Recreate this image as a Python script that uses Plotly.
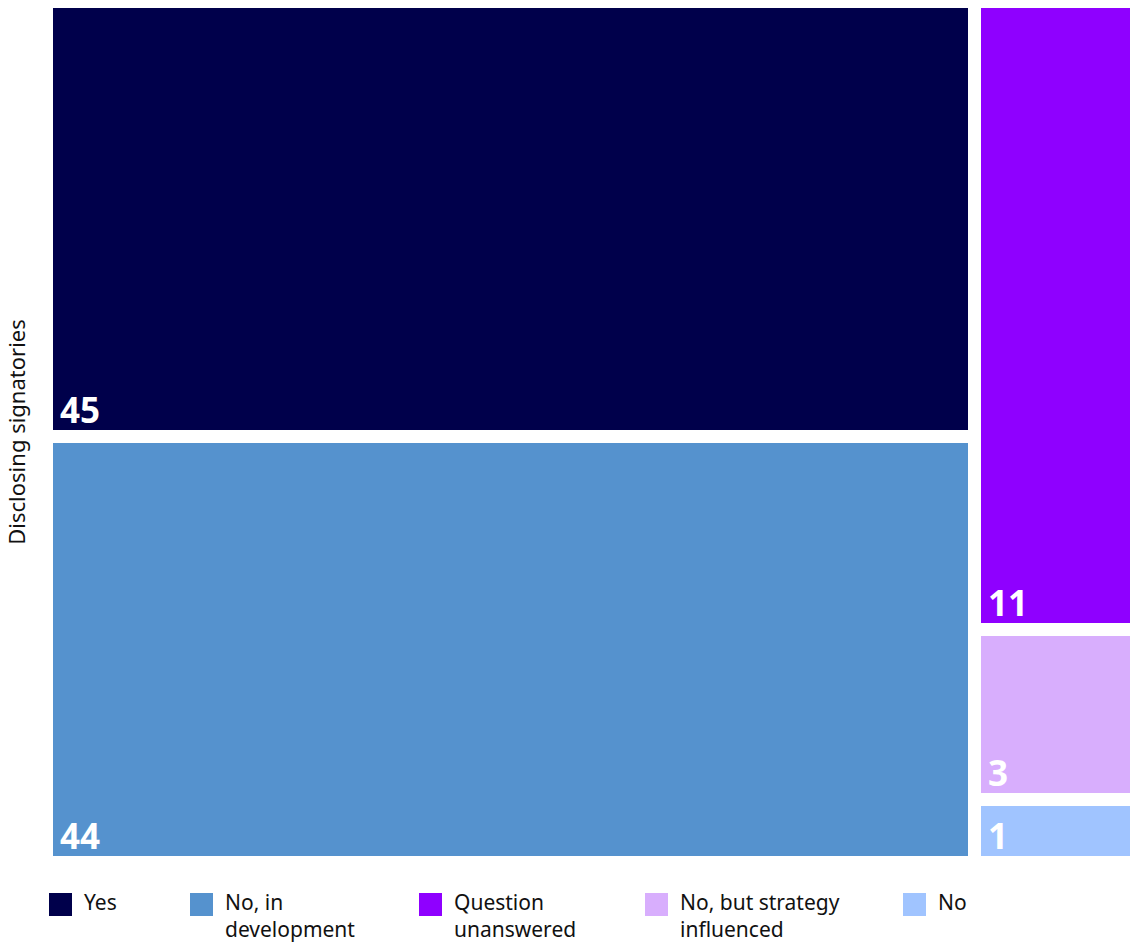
import plotly.graph_objects as go

# Disclosing signatories by answer
categories = ["Yes", "No, in development", "Question unanswered", "No, but strategy influenced", "No"]
values = [45, 44, 11, 3, 1]
columns = [0, 0, 1, 1, 1]          # which treemap column each tile sits in
legend_labels = ["Yes", "No, in<br>development", "Question<br>unanswered", "No, but strategy<br>influenced", "No"]
colors = ["#00004B", "#5592CE", "#8F00FF", "#D8AEFD", "#A0C4FF"]

FONT = "Noto Sans"
W, H = 1131, 946
L, R, T, B = 53, 1, 8, 90
PW, PH = W - L - R, H - T - B
GAP = 13  # white gap between tiles, px

total = sum(values)
col_tot = {}
for c, v in zip(columns, values):
    col_tot[c] = col_tot.get(c, 0) + v

# slice-and-dice layout: columns split x by column total, tiles stacked top-down
gx = GAP / 2 * total / PW
gy = GAP / 2 / PH
rects = []
x_start = 0.0
ncols = len(col_tot)
for c in sorted(col_tot):
    x0, x1 = x_start, x_start + col_tot[c]
    x_start = x1
    idx = [i for i, cc in enumerate(columns) if cc == c]
    y_top = 1.0
    for k, i in enumerate(idx):
        y1, y0 = y_top, y_top - values[i] / col_tot[c]
        y_top = y0
        rx0 = x0 + (gx if c > 0 else 0)
        rx1 = x1 - (gx if c < ncols - 1 else 0)
        ry1 = y1 - (gy if k > 0 else 0)
        ry0 = y0 + (gy if k < len(idx) - 1 else 0)
        rects.append((i, rx0, rx1, ry0, ry1))

fig = go.Figure()
annotations = []
for i, rx0, rx1, ry0, ry1 in rects:
    fig.add_trace(go.Bar(
        x=[(rx0 + rx1) / 2], y=[ry1 - ry0], base=[ry0], width=[rx1 - rx0],
        marker=dict(color=colors[i], line=dict(width=0)),
        name=categories[i], showlegend=False,
        hovertemplate=f"{categories[i]}: {values[i]}<extra></extra>",
    ))
    annotations.append(dict(
        x=rx0, y=ry0, xref="x", yref="y", xanchor="left", yanchor="bottom",
        text=f"<b>{values[i]}</b>", showarrow=False, xshift=5, yshift=-5,
        font=dict(family=FONT, size=35, color="white"),
    ))

# legend row under the tiles
legend_px = [49, 190, 419, 645, 903]
SQ = 23
def px_x(p):
    return (p - L) / PW
def px_y(p):
    return (H - B - p) / PH

shapes = []
for lx, lab, col in zip(legend_px, legend_labels, colors):
    shapes.append(dict(type="rect", xref="paper", yref="paper",
                       x0=px_x(lx), x1=px_x(lx + SQ), y0=px_y(893 + SQ), y1=px_y(893),
                       fillcolor=col, line=dict(width=0)))
    annotations.append(dict(
        x=px_x(lx + 33), y=px_y(886), xref="paper", yref="paper",
        xanchor="left", yanchor="top", align="left", showarrow=False,
        text=lab, font=dict(family=FONT, size=21, color="#111111"),
    ))

fig.update_layout(
    width=W, height=H,
    margin=dict(l=L, r=R, t=T, b=B),
    paper_bgcolor="white", plot_bgcolor="white",
    barmode="overlay", bargap=0,
    xaxis=dict(range=[0, total], visible=False, fixedrange=True),
    yaxis=dict(range=[0, 1], showticklabels=False, showgrid=False, zeroline=False,
               ticks="", fixedrange=True,
               title=dict(text="Disclosing signatories", standoff=20,
                          font=dict(family=FONT, size=22, color="#111111"))),
    shapes=shapes, annotations=annotations,
    font=dict(family=FONT),
)

fig.write_html("out.html")
